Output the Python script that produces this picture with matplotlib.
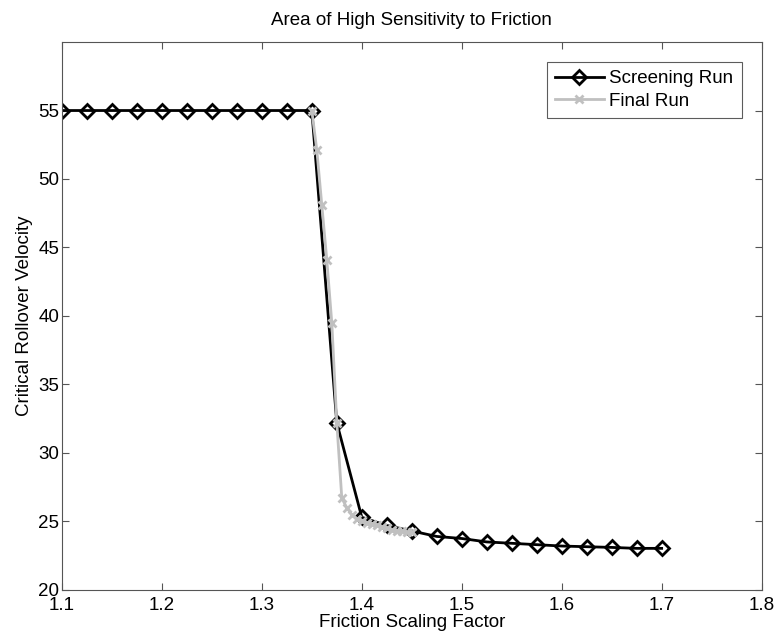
import matplotlib
matplotlib.use('Agg')
import matplotlib.pyplot as plt
import numpy as np

# screening run, coarse steps of 0.025
screen_x = [1.1, 1.125, 1.15, 1.175, 1.2, 1.225, 1.25, 1.275, 1.3, 1.325,
            1.35, 1.375, 1.4, 1.425, 1.45, 1.475, 1.5, 1.525, 1.55, 1.575,
            1.6, 1.625, 1.65, 1.675, 1.7]
screen_v = [55, 55, 55, 55, 55, 55, 55, 55, 55, 55,
            55, 32.2, 25.3, 24.7, 24.3, 23.9, 23.75, 23.5, 23.4, 23.3,
            23.2, 23.15, 23.1, 23.03, 23.03]

# final run, fine steps of 0.005 over the transition
final_x = [1.35, 1.355, 1.36, 1.365, 1.37, 1.375, 1.38, 1.385, 1.39, 1.395,
           1.4, 1.405, 1.41, 1.415, 1.42, 1.425, 1.43, 1.435, 1.44, 1.445, 1.45]
final_v = [55, 52.1, 48.1, 44.1, 39.5, 32.2, 26.7, 26.0, 25.5, 25.2,
           25.0, 24.9, 24.8, 24.7, 24.6, 24.5, 24.4, 24.3, 24.3, 24.2, 24.2]

xticks = [1.1, 1.2, 1.3, 1.4, 1.5, 1.6, 1.7, 1.8]
yticks = [20, 25, 30, 35, 40, 45, 50, 55]

plt.rcParams['font.family'] = ['Liberation Sans', 'DejaVu Sans']

fig = plt.figure(figsize=(7.74, 6.37), dpi=100)
ax = fig.add_axes([0.080, 0.074, 0.904, 0.860])

ax.plot(screen_x, screen_v, color='black', linewidth=2, marker='D',
        markersize=7.5, markerfacecolor='none', markeredgewidth=2,
        label='Screening Run')
ax.plot(final_x, final_v, color='#c0c0c0', linewidth=2, marker='x',
        markersize=6, markeredgewidth=2, label='Final Run')

ax.set_xlim(1.1, 1.8)
ax.set_ylim(20, 60)
ax.set_xticks(xticks)
ax.set_xticklabels([str(t) for t in xticks])
ax.set_yticks(yticks)
ax.tick_params(direction='in', top=True, right=True, labelsize=13.5,
               length=5, color='#555555')
ax.tick_params(axis='x', pad=5)
ax.tick_params(axis='y', pad=2)
for s in ax.spines.values():
    s.set_color('#555555')

ax.set_title('Area of High Sensitivity to Friction', fontsize=13.5, pad=12)
ax.set_xlabel('Friction Scaling Factor', fontsize=13.5, labelpad=0)
ax.set_ylabel('Critical Rollover Velocity', fontsize=13.5, labelpad=4)

leg = ax.legend(loc='upper right', fontsize=13.5, fancybox=False,
                edgecolor='#333333', borderaxespad=1.05, handlelength=2.6,
                handletextpad=0.3, labelspacing=0.28, borderpad=0.45)
leg.get_frame().set_linewidth(0.8)

plt.savefig('out.png', dpi=100)
